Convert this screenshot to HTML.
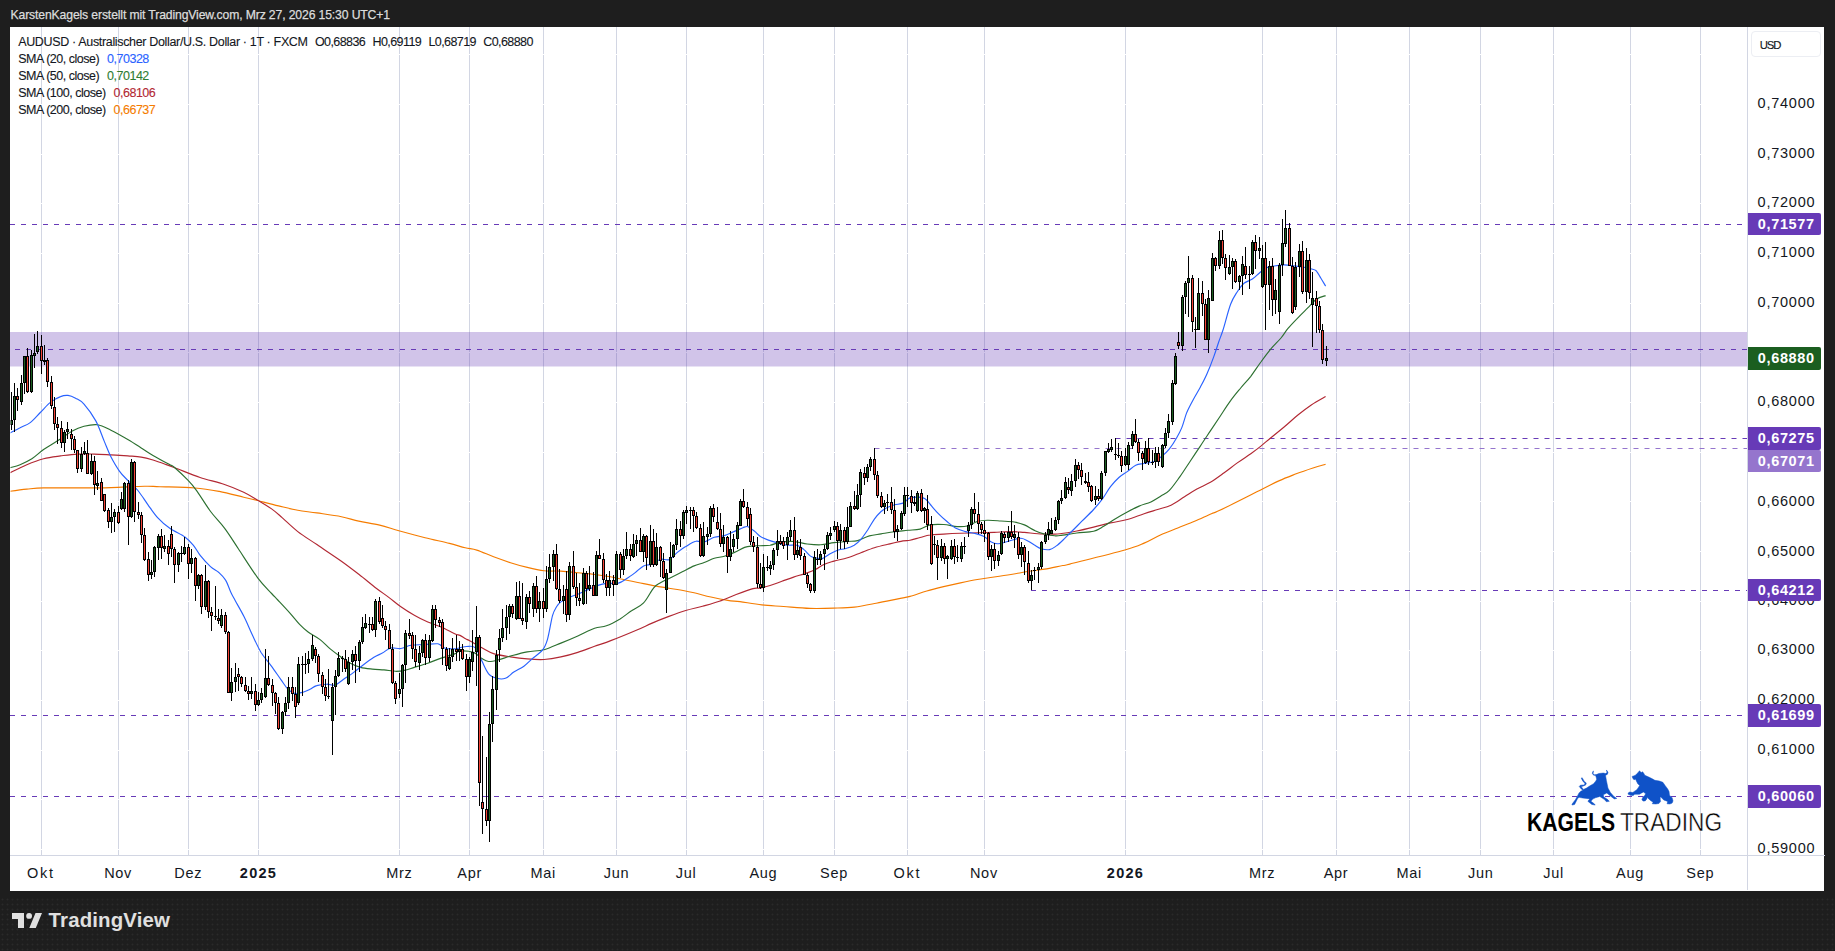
<!DOCTYPE html>
<html><head><meta charset="utf-8"><title>AUDUSD</title>
<style>
html,body{margin:0;padding:0;background:#1e1e1e;}
body{width:1835px;height:951px;overflow:hidden;position:relative;font-family:"Liberation Sans",sans-serif;}
#dots{position:absolute;left:0;top:897px;width:1835px;height:54px;background-image:radial-gradient(circle,rgba(255,255,255,0.055) 0.7px,rgba(255,255,255,0) 1.2px);background-size:5px 5px;}
#white{position:absolute;left:10.4px;top:27px;width:1814.1px;height:863.5px;background:#fff;}
.t{position:absolute;white-space:nowrap;line-height:1;}
#hdr{left:10.5px;top:8.7px;font-size:12.2px;color:#dcdcdc;letter-spacing:-0.13px;-webkit-text-stroke:0.25px;}
.lg{font-size:12.5px;color:#131722;left:18.2px;letter-spacing:-0.48px;-webkit-text-stroke:0.1px;}
.pl{font-size:14.5px;color:#131722;left:1757.6px;letter-spacing:0.75px;transform:translateY(-50%);margin-top:0.7px;}
.tag{position:absolute;left:1748px;width:73px;height:22.6px;border-radius:0 2px 2px 0;color:#fff;font-weight:bold;font-size:14.5px;letter-spacing:0.65px;line-height:22.2px;}
.tag span{position:absolute;left:9.8px;}
.tl{font-size:14.5px;color:#131722;top:865.6px;transform:translateX(-50%);letter-spacing:0.7px;margin-left:0px;}
.tl.b{font-weight:bold;letter-spacing:1.3px;}
#usd{position:absolute;left:1750.8px;top:31.2px;width:70px;height:25.6px;border:1px solid #eceef3;border-radius:4px;box-sizing:border-box;}
#usd span{position:absolute;left:7.9px;top:7.8px;font-size:11.3px;letter-spacing:-1.1px;color:#131722;line-height:1;-webkit-text-stroke:0.15px;}
#kg{left:1527px;top:810.2px;font-size:25.2px;font-weight:bold;color:#000;transform-origin:0 0;transform:scaleX(0.84);}
#tr{left:1619.5px;top:810.2px;font-size:25.2px;color:#000;transform-origin:0 0;transform:scaleX(0.9);-webkit-text-stroke:0.45px #fff;}
#tv{left:48.6px;top:910.3px;font-size:20.4px;font-weight:bold;color:#e0e0e0;letter-spacing:0.15px;}
</style></head><body>
<div id="dots"></div>
<div id="white"></div>

<svg width="1835" height="951" viewBox="0 0 1835 951" style="position:absolute;left:0;top:0">
<rect x="41" y="27" width="1" height="828.5" fill="#d2d6e3"/>
<rect x="118" y="27" width="1" height="828.5" fill="#d2d6e3"/>
<rect x="188" y="27" width="1" height="828.5" fill="#d2d6e3"/>
<rect x="258" y="27" width="1" height="828.5" fill="#d2d6e3"/>
<rect x="399" y="27" width="1" height="828.5" fill="#d2d6e3"/>
<rect x="469" y="27" width="1" height="828.5" fill="#d2d6e3"/>
<rect x="543" y="27" width="1" height="828.5" fill="#d2d6e3"/>
<rect x="616" y="27" width="1" height="828.5" fill="#d2d6e3"/>
<rect x="686" y="27" width="1" height="828.5" fill="#d2d6e3"/>
<rect x="763" y="27" width="1" height="828.5" fill="#d2d6e3"/>
<rect x="834" y="27" width="1" height="828.5" fill="#d2d6e3"/>
<rect x="907" y="27" width="1" height="828.5" fill="#d2d6e3"/>
<rect x="984" y="27" width="1" height="828.5" fill="#d2d6e3"/>
<rect x="1125" y="27" width="1" height="828.5" fill="#d2d6e3"/>
<rect x="1262" y="27" width="1" height="828.5" fill="#d2d6e3"/>
<rect x="1336" y="27" width="1" height="828.5" fill="#d2d6e3"/>
<rect x="1409" y="27" width="1" height="828.5" fill="#d2d6e3"/>
<rect x="1480" y="27" width="1" height="828.5" fill="#d2d6e3"/>
<rect x="1553" y="27" width="1" height="828.5" fill="#d2d6e3"/>
<rect x="1630" y="27" width="1" height="828.5" fill="#d2d6e3"/>
<rect x="1700" y="27" width="1" height="828.5" fill="#d2d6e3"/>
<rect x="10" y="54" width="1737.5" height="1" fill="#fff"/>
<rect x="10" y="104" width="1737.5" height="1" fill="#fff"/>
<rect x="10" y="154" width="1737.5" height="1" fill="#fff"/>
<rect x="10" y="203" width="1737.5" height="1" fill="#fff"/>
<rect x="10" y="253" width="1737.5" height="1" fill="#fff"/>
<rect x="10" y="303" width="1737.5" height="1" fill="#fff"/>
<rect x="10" y="352" width="1737.5" height="1" fill="#fff"/>
<rect x="10" y="402" width="1737.5" height="1" fill="#fff"/>
<rect x="10" y="452" width="1737.5" height="1" fill="#fff"/>
<rect x="10" y="501" width="1737.5" height="1" fill="#fff"/>
<rect x="10" y="551" width="1737.5" height="1" fill="#fff"/>
<rect x="10" y="601" width="1737.5" height="1" fill="#fff"/>
<rect x="10" y="650" width="1737.5" height="1" fill="#fff"/>
<rect x="10" y="700" width="1737.5" height="1" fill="#fff"/>
<rect x="10" y="750" width="1737.5" height="1" fill="#fff"/>
<rect x="10" y="799" width="1737.5" height="1" fill="#fff"/>
<rect x="10" y="849" width="1737.5" height="1" fill="#fff"/>
<rect x="10" y="332" width="1737.5" height="34.5" fill="#673ab7" fill-opacity="0.3"/>
<rect x="10" y="855" width="1815" height="1" fill="#d2d6e3"/>
<rect x="1747" y="27" width="1" height="863" fill="#d2d6e3"/>
<line x1="10" y1="224.5" x2="1747" y2="224.5" stroke="#673ab7" stroke-width="1" stroke-dasharray="5 6"/>
<line x1="15" y1="349.5" x2="1747" y2="349.5" stroke="#673ab7" stroke-width="1" stroke-dasharray="5 6"/>
<line x1="1115.5" y1="438.5" x2="1747" y2="438.5" stroke="#673ab7" stroke-width="1" stroke-dasharray="5 6"/>
<line x1="874.5" y1="448.5" x2="1747" y2="448.5" stroke="#9575cd" stroke-width="1" stroke-dasharray="5 6"/>
<line x1="1031" y1="590.5" x2="1747" y2="590.5" stroke="#673ab7" stroke-width="1" stroke-dasharray="5 6"/>
<line x1="10" y1="715.5" x2="1747" y2="715.5" stroke="#673ab7" stroke-width="1" stroke-dasharray="5 6"/>
<line x1="10" y1="796.5" x2="1747" y2="796.5" stroke="#673ab7" stroke-width="1" stroke-dasharray="5 6"/>
<clipPath id="cp"><rect x="10.5" y="27" width="1737" height="828"/></clipPath><g clip-path="url(#cp)">
<path d="M10.0 491.3C12.8 490.9 21.2 489.7 26.8 489.1C32.4 488.6 35.2 488.1 43.6 487.9C52.1 487.8 66.1 488.0 77.3 487.9C88.5 487.9 99.7 487.9 110.9 487.6C122.2 487.3 136.4 486.4 144.6 486.3C152.8 486.1 151.6 486.5 160.0 486.7C168.4 487.0 185.0 487.2 194.9 488.0C204.8 488.7 211.2 489.9 219.3 491.4C227.4 493.0 237.3 495.7 243.7 497.2C250.1 498.7 251.8 499.1 257.7 500.5C263.5 502.0 271.9 504.3 278.6 505.9C285.3 507.5 291.4 509.1 297.8 510.3C304.2 511.4 309.7 511.8 316.9 512.9C324.2 514.0 334.4 515.4 341.4 516.7C348.3 518.1 352.4 519.7 358.8 521.1C365.2 522.5 373.0 523.5 379.7 525.1C386.4 526.7 391.4 528.6 398.9 530.7C406.5 532.8 416.6 535.5 425.1 537.7C433.5 539.8 442.8 541.7 449.5 543.4C456.2 545.1 460.6 546.7 465.2 547.8C469.7 548.9 472.1 548.6 476.8 550.1C481.6 551.6 488.0 554.7 493.6 556.8C499.3 558.9 504.9 560.9 510.5 562.7C516.1 564.5 521.7 566.1 527.3 567.4C532.9 568.8 538.5 570.2 544.1 570.8C549.7 571.4 555.3 570.8 560.9 571.1C566.6 571.5 572.2 572.2 577.8 572.8C583.4 573.4 589.2 573.8 594.6 574.5C600.0 575.2 604.6 575.9 610.0 576.8C615.4 577.8 621.2 579.1 626.8 580.2C632.4 581.3 638.0 582.4 643.6 583.6C649.3 584.7 654.9 585.9 660.5 586.9C666.1 587.9 671.7 588.5 677.3 589.5C682.9 590.4 688.5 591.6 694.1 592.8C699.7 594.1 705.3 595.8 710.9 597.0C716.6 598.3 722.9 599.6 727.8 600.4C732.6 601.2 734.3 600.9 740.0 601.6C745.7 602.4 754.5 604.1 761.8 604.9C769.1 605.7 775.6 605.9 783.6 606.5C791.6 607.1 801.4 608.1 809.8 608.4C818.1 608.6 826.3 608.4 833.7 608.1C841.2 607.9 847.4 607.9 854.4 607.1C861.5 606.2 869.0 604.6 876.2 603.2C883.5 601.9 892.4 600.0 898.0 598.9C903.7 597.7 905.2 597.7 910.0 596.4C914.8 595.1 921.2 592.6 926.8 591.0C932.4 589.4 938.0 588.0 943.6 586.6C949.3 585.3 954.9 584.1 960.5 582.9C966.1 581.7 971.7 580.5 977.3 579.5C982.9 578.6 988.5 577.9 994.1 577.0C999.7 576.2 1005.3 575.4 1010.9 574.5C1016.6 573.6 1022.2 572.4 1027.8 571.5C1033.4 570.6 1039.0 570.1 1044.6 569.1C1050.2 568.2 1057.2 566.6 1061.4 565.8C1065.6 564.9 1059.3 566.7 1069.8 564.1C1080.4 561.4 1112.4 553.5 1124.8 550.0C1137.2 546.5 1138.1 545.7 1144.1 543.1C1150.2 540.6 1155.3 537.2 1160.9 534.7C1166.6 532.2 1172.2 530.2 1177.8 528.0C1183.4 525.7 1189.0 523.6 1194.6 521.2C1200.2 518.8 1207.2 515.5 1211.4 513.7C1215.6 511.8 1211.3 514.4 1219.8 510.3C1228.4 506.2 1252.6 493.9 1262.5 489.0C1272.5 484.0 1273.8 483.1 1279.4 480.6C1285.0 478.1 1290.6 476.0 1296.2 473.8C1301.8 471.7 1308.1 469.6 1313.0 468.0C1317.9 466.4 1323.5 464.9 1325.6 464.3" fill="none" stroke="#f57c00" stroke-width="1.15" stroke-linejoin="round"/>
<path d="M10.0 472.8C12.8 471.4 21.2 467.0 26.8 464.7C32.4 462.4 38.0 460.3 43.6 458.8C49.3 457.3 54.9 456.7 60.5 455.9C66.1 455.2 71.7 454.4 77.3 454.1C82.9 453.8 88.5 454.0 94.1 454.1C99.7 454.2 105.3 454.6 110.9 454.9C116.6 455.2 122.7 455.6 127.8 455.9C132.8 456.3 137.0 456.4 141.2 457.1C145.4 457.8 148.9 458.8 153.0 460.0C157.1 461.2 161.6 462.9 165.6 464.4C169.7 465.8 171.7 466.6 177.4 468.8C183.2 471.0 192.3 474.9 200.1 477.5C208.0 480.1 217.3 482.0 224.5 484.5C231.8 486.9 238.2 489.7 243.7 492.3C249.2 494.9 253.0 497.4 257.7 500.2C262.3 502.9 267.5 506.0 271.6 508.9C275.7 511.8 277.7 513.8 282.1 517.6C286.4 521.4 292.0 527.0 297.8 531.6C303.6 536.1 309.7 539.7 316.9 544.6C324.2 549.6 334.4 556.3 341.4 561.2C348.3 566.1 353.0 569.8 358.8 574.3C364.6 578.8 371.2 584.3 376.2 588.2C381.3 592.1 385.0 594.5 389.1 597.6C393.2 600.7 396.6 603.9 400.9 606.8C405.1 609.8 409.8 612.7 414.3 615.2C418.8 617.8 423.3 620.0 427.8 622.0C432.3 623.9 436.7 625.1 441.2 627.0C445.7 629.0 451.6 632.3 454.7 633.7C457.8 635.1 458.2 634.6 460.0 635.4C461.8 636.2 463.9 637.9 465.6 638.8C467.3 639.7 467.4 639.5 470.1 640.9C472.8 642.4 477.9 645.6 481.9 647.7C485.8 649.8 488.9 652.0 493.6 653.6C498.4 655.1 504.9 656.0 510.5 656.9C516.1 657.8 521.7 658.5 527.3 658.9C532.9 659.4 538.5 659.8 544.1 659.5C549.7 659.1 555.3 658.1 560.9 656.9C566.6 655.8 572.2 654.2 577.8 652.4C583.4 650.6 589.0 648.3 594.6 646.3C600.2 644.3 604.4 643.2 611.4 640.4C618.5 637.7 630.1 632.9 636.9 630.0C643.7 627.1 646.7 625.4 652.1 623.1C657.4 620.8 663.3 618.5 668.9 616.4C674.5 614.3 680.1 612.2 685.7 610.5C691.3 608.8 696.9 607.8 702.5 606.3C708.1 604.7 713.8 603.2 719.4 601.2C725.0 599.3 730.6 596.6 736.2 594.5C741.8 592.4 749.0 589.7 753.0 588.6C757.0 587.5 757.2 588.6 760.0 588.1C762.8 587.5 766.4 586.7 770.1 585.5C773.7 584.4 777.9 582.7 781.9 581.3C785.8 579.9 789.4 578.5 793.6 577.1C797.9 575.7 803.5 574.2 807.1 572.9C810.8 571.7 812.7 570.9 815.5 569.5C818.3 568.1 820.8 565.9 823.9 564.5C827.0 563.1 830.1 562.3 834.0 561.1C838.0 560.0 843.0 559.2 847.5 557.8C852.0 556.4 856.5 554.4 860.9 552.7C865.4 551.0 869.9 549.1 874.4 547.7C878.9 546.3 883.1 545.4 887.9 544.3C892.6 543.2 899.3 541.6 903.0 540.9C906.7 540.3 907.2 540.9 910.0 540.3C912.8 539.8 916.7 538.4 920.1 537.5C923.5 536.6 926.3 535.5 930.2 535.0C934.1 534.4 938.6 534.4 943.6 534.1C948.7 533.8 954.9 533.5 960.5 533.3C966.1 533.1 971.7 532.9 977.3 532.8C982.9 532.6 988.5 532.6 994.1 532.4C999.7 532.2 1005.9 531.6 1010.9 531.6C1016.0 531.6 1019.9 532.1 1024.4 532.4C1028.9 532.8 1033.4 533.5 1037.9 533.8C1042.4 534.1 1047.6 534.1 1051.3 534.1C1055.0 534.1 1055.8 534.4 1060.0 533.8C1064.2 533.3 1071.2 532.1 1076.8 531.0C1082.4 529.9 1088.0 528.5 1093.6 527.1C1099.3 525.8 1104.9 524.2 1110.5 522.9C1116.1 521.7 1121.7 521.1 1127.3 519.5C1132.9 518.0 1139.1 515.3 1144.1 513.7C1149.2 512.0 1153.1 510.9 1157.6 509.5C1162.1 508.1 1166.6 507.4 1171.0 505.2C1175.5 503.1 1180.2 499.5 1184.5 496.8C1188.8 494.1 1192.6 491.4 1196.9 489.0C1201.2 486.6 1205.9 484.9 1210.4 482.3C1214.9 479.6 1219.4 476.2 1223.8 473.0C1228.3 469.8 1232.8 466.1 1237.3 462.9C1241.8 459.7 1246.8 456.5 1250.8 453.7C1254.7 450.9 1257.5 448.8 1260.9 446.1C1264.2 443.4 1267.0 440.9 1270.9 437.7C1274.9 434.5 1279.9 430.5 1284.4 426.7C1288.9 423.0 1293.4 418.6 1297.9 415.0C1302.4 411.3 1306.7 408.0 1311.3 404.9C1316.0 401.8 1323.2 397.9 1325.6 396.5" fill="none" stroke="#b22833" stroke-width="1.15" stroke-linejoin="round"/>
<path d="M10.0 467.7C11.7 467.2 16.4 466.2 20.1 464.7C23.7 463.2 27.9 461.3 31.9 458.8C35.8 456.3 39.4 452.5 43.6 449.5C47.9 446.6 52.3 444.2 57.1 441.1C61.9 438.1 67.8 433.5 72.3 431.0C76.7 428.6 79.8 427.4 84.0 426.3C88.2 425.3 93.0 424.2 97.5 424.8C102.0 425.5 105.9 427.8 110.9 430.2C116.0 432.6 122.7 436.5 127.8 439.5C132.8 442.4 137.0 445.2 141.2 447.9C145.4 450.5 148.2 452.6 153.0 455.4C157.8 458.2 166.3 462.8 169.8 464.7C173.3 466.6 170.9 464.5 174.0 467.0C177.0 469.6 184.1 476.2 187.9 480.1C191.7 484.0 192.8 485.3 196.6 490.6C200.4 495.8 205.9 505.2 210.6 511.5C215.2 517.7 219.9 521.8 224.5 528.1C229.2 534.3 233.0 540.7 238.5 549.0C244.0 557.3 252.1 570.4 257.7 577.8C263.2 585.2 268.3 589.8 271.6 593.5C275.0 597.2 274.8 596.8 277.8 600.0C280.8 603.2 285.9 608.6 289.5 612.6C293.2 616.7 296.6 621.2 299.6 624.4C302.7 627.6 304.6 629.4 308.1 632.0C311.5 634.5 316.4 636.8 320.1 639.6C323.8 642.5 326.8 646.1 330.2 648.9C333.6 651.7 336.9 654.1 340.3 656.5C343.6 658.8 347.0 661.4 350.4 663.2C353.7 665.0 356.8 666.4 360.5 667.4C364.1 668.4 368.3 668.7 372.3 669.1C376.2 669.5 380.1 669.6 384.0 669.9C388.0 670.3 392.4 671.2 395.8 671.3C399.2 671.3 401.1 671.1 404.2 670.4C407.3 669.8 410.4 668.6 414.3 667.4C418.2 666.2 423.3 664.7 427.8 663.2C432.3 661.6 436.7 659.7 441.2 658.1C445.7 656.6 451.6 655.1 454.7 653.9C457.8 652.7 456.9 651.3 460.0 651.0C463.1 650.8 469.8 651.1 473.5 652.4C477.1 653.6 479.3 657.1 481.9 658.6C484.4 660.1 485.8 661.3 488.6 661.5C491.4 661.7 495.1 660.7 498.7 659.8C502.3 658.9 505.7 657.4 510.5 656.1C515.2 654.8 521.7 652.9 527.3 651.9C532.9 650.8 538.5 651.2 544.1 649.7C549.7 648.2 555.3 645.4 560.9 643.1C566.6 640.8 572.2 638.4 577.8 635.9C583.4 633.4 589.8 630.0 594.6 628.3C599.4 626.6 602.1 627.4 606.4 625.8C610.6 624.2 615.8 621.4 620.1 618.9C624.3 616.3 627.9 613.1 631.9 610.5C635.8 607.8 640.0 606.7 643.6 602.9C647.3 599.1 650.9 591.1 653.7 587.8C656.5 584.4 657.7 584.4 660.5 582.7C663.3 581.0 666.9 579.5 670.6 577.7C674.2 575.9 678.4 573.8 682.3 571.8C686.3 569.8 690.5 567.4 694.1 565.9C697.8 564.4 700.9 563.8 704.2 562.5C707.6 561.3 710.9 559.4 714.3 558.3C717.7 557.3 721.0 557.3 724.4 556.3C727.8 555.3 731.1 553.9 734.5 552.4C737.9 551.0 741.5 548.5 744.6 547.4C747.7 546.3 750.4 546.3 753.0 546.0C755.6 545.8 757.2 545.8 760.0 545.7C762.8 545.5 766.7 545.7 770.1 545.2C773.5 544.6 776.3 542.9 780.2 542.3C784.1 541.7 789.2 541.2 793.6 541.5C798.1 541.7 802.6 543.4 807.1 544.0C811.6 544.5 816.1 545.0 820.6 544.8C825.1 544.6 829.5 543.2 834.0 542.6C838.5 542.1 843.6 541.8 847.5 541.5C851.4 541.1 853.9 541.5 857.6 540.6C861.2 539.7 865.4 537.0 869.4 535.9C873.3 534.8 876.9 534.6 881.1 533.9C885.3 533.2 890.1 532.3 894.6 531.7C899.1 531.1 903.8 530.8 908.1 530.3C912.3 529.9 916.4 530.0 920.1 529.1C923.8 528.2 926.3 525.6 930.2 524.9C934.1 524.1 939.2 524.3 943.6 524.5C948.1 524.8 953.2 526.3 957.1 526.6C961.0 526.8 963.8 526.9 967.2 526.0C970.6 525.2 973.9 522.5 977.3 521.5C980.7 520.6 983.5 520.4 987.4 520.3C991.3 520.2 996.4 520.7 1000.9 521.0C1005.3 521.3 1010.4 521.4 1014.3 522.0C1018.2 522.7 1021.0 523.5 1024.4 524.9C1027.8 526.3 1031.1 528.9 1034.5 530.4C1037.9 532.0 1041.2 533.2 1044.6 534.1C1048.0 535.0 1052.1 535.6 1054.7 535.8C1057.3 536.0 1056.3 536.0 1060.0 535.5C1063.7 535.1 1071.2 533.7 1076.8 533.0C1082.4 532.3 1089.2 532.4 1093.6 531.3C1098.1 530.2 1100.1 528.4 1103.7 526.3C1107.4 524.2 1111.6 521.1 1115.5 518.7C1119.4 516.3 1123.4 514.1 1127.3 512.0C1131.2 509.9 1135.1 507.8 1139.1 506.1C1143.0 504.4 1147.2 503.6 1150.9 501.9C1154.5 500.2 1157.9 497.9 1160.9 496.0C1164.0 494.1 1166.2 493.7 1169.4 490.4C1172.5 487.2 1176.6 481.2 1180.1 476.4C1183.6 471.5 1186.8 466.3 1190.2 461.2C1193.6 456.2 1196.9 451.1 1200.3 446.1C1203.6 441.0 1207.0 436.0 1210.4 430.9C1213.7 425.9 1217.1 420.9 1220.5 415.8C1223.8 410.8 1227.2 405.3 1230.6 400.7C1233.9 396.0 1237.3 392.1 1240.7 388.0C1244.0 384.0 1247.4 380.6 1250.8 376.3C1254.1 371.9 1257.5 366.5 1260.9 362.0C1264.2 357.4 1267.6 352.9 1270.9 348.9C1274.3 344.9 1278.2 341.3 1281.0 338.0C1283.8 334.6 1285.0 332.1 1287.8 328.7C1290.6 325.3 1294.5 321.3 1297.9 317.8C1301.2 314.3 1304.9 310.8 1308.0 307.7C1311.0 304.6 1313.4 301.3 1316.4 299.3C1319.3 297.2 1324.1 296.2 1325.6 295.6" fill="none" stroke="#2c7030" stroke-width="1.15" stroke-linejoin="round"/>
<path d="M10.0 433.1C11.7 432.2 16.7 429.4 20.1 427.7C23.5 425.9 26.8 425.2 30.2 422.6C33.6 420.1 36.9 415.9 40.3 412.5C43.6 409.2 47.0 405.1 50.4 402.4C53.7 399.8 57.5 397.7 60.5 396.6C63.4 395.4 65.5 395.1 68.0 395.4C70.6 395.7 73.0 396.8 75.6 398.2C78.3 399.7 80.7 400.3 84.0 404.1C87.4 407.9 92.4 414.8 95.8 420.9C99.2 427.1 101.7 435.2 104.2 441.1C106.7 447.1 108.4 451.8 110.9 456.8C113.5 461.8 116.6 467.2 119.4 471.1C122.2 475.1 124.7 477.2 127.8 480.4C130.9 483.6 134.5 486.4 137.9 490.5C141.2 494.5 144.6 500.1 148.0 504.8C151.3 509.4 154.4 514.3 158.1 518.2C161.7 522.2 165.3 525.2 169.8 528.3C174.4 531.5 181.3 534.3 185.2 537.2C189.2 540.1 191.1 542.5 193.6 545.6C196.2 548.7 197.6 552.2 200.4 555.7C203.2 559.2 207.4 563.8 210.5 566.6C213.6 569.4 216.4 570.3 218.9 572.5C221.4 574.8 223.7 576.9 225.6 580.1C227.6 583.3 229.1 588.6 230.7 591.9C232.2 595.2 232.6 595.8 234.9 600.0C237.1 604.2 241.2 610.9 244.1 616.8C247.1 622.7 249.7 629.4 252.5 635.3C255.3 641.2 257.9 647.1 260.9 652.2C264.0 657.2 267.7 661.0 271.0 665.6C274.4 670.2 278.3 676.0 281.1 679.9C283.9 683.8 285.6 686.9 287.9 689.2C290.1 691.4 292.1 692.9 294.6 693.4C297.1 693.9 300.4 692.9 303.0 692.2C305.6 691.5 307.7 690.4 310.0 689.3C312.3 688.2 313.9 686.4 316.7 685.6C319.5 684.7 323.7 684.3 326.8 684.2C329.9 684.1 332.4 685.9 335.2 685.1C338.0 684.2 340.6 681.3 343.6 679.2C346.7 677.1 350.7 674.7 353.7 672.4C356.8 670.2 358.8 668.2 362.2 665.7C365.5 663.2 370.6 659.4 373.9 657.3C377.3 655.2 379.5 654.6 382.3 653.1C385.1 651.5 387.7 648.8 390.8 648.0C393.8 647.3 397.5 649.0 400.9 648.5C404.2 648.1 407.0 645.8 410.9 645.2C414.9 644.5 419.9 644.9 424.4 644.7C428.9 644.5 434.5 643.3 437.9 643.8C441.2 644.4 441.8 647.2 444.6 648.0C447.4 648.9 452.1 648.9 454.7 648.9C457.3 648.8 458.0 648.1 460.0 647.7C462.0 647.3 464.2 646.5 466.7 646.5C469.3 646.5 472.6 645.2 475.1 647.7C477.7 650.1 479.6 656.8 481.9 661.1C484.1 665.5 486.1 670.9 488.6 673.8C491.1 676.6 494.2 677.5 497.0 678.3C499.8 679.1 502.6 679.3 505.4 678.3C508.2 677.3 510.8 674.1 513.8 672.1C516.9 670.1 520.8 668.4 523.9 666.2C527.0 663.9 529.3 661.3 532.3 658.6C535.4 655.9 539.9 653.4 542.4 650.2C545.0 647.0 545.8 645.0 547.5 639.3C549.2 633.5 551.0 621.2 552.5 615.7C554.1 610.2 555.3 608.8 556.7 606.5C558.1 604.2 558.8 603.5 560.9 601.9C563.0 600.4 566.6 598.5 569.4 597.2C572.2 595.9 574.7 595.4 577.8 594.2C580.9 592.9 584.5 591.1 587.9 589.6C591.2 588.2 594.9 586.5 598.0 585.4C601.0 584.4 603.0 583.8 606.4 583.4C609.8 583.0 615.0 583.9 618.4 583.1C621.8 582.2 624.0 580.3 626.8 578.5C629.6 576.8 632.4 574.7 635.2 572.6C638.0 570.5 640.8 567.3 643.6 565.9C646.5 564.5 649.3 565.3 652.1 564.2C654.9 563.1 657.7 559.9 660.5 559.2C663.3 558.4 666.1 560.8 668.9 559.7C671.7 558.6 674.5 554.6 677.3 552.4C680.1 550.3 682.6 548.4 685.7 546.6C688.8 544.7 692.7 541.9 695.8 541.2C698.9 540.4 701.1 542.7 704.2 542.0C707.3 541.4 710.9 538.4 714.3 537.3C717.7 536.2 721.0 536.6 724.4 535.6C727.8 534.6 731.4 532.7 734.5 531.4C737.6 530.1 740.7 528.5 742.9 527.7C745.2 526.9 746.0 526.1 748.0 526.7C749.9 527.3 752.7 529.8 754.7 531.4C756.7 533.0 757.7 534.8 760.0 536.2C762.3 537.7 765.6 539.0 768.4 540.1C771.2 541.2 773.7 541.8 776.8 542.6C779.9 543.5 783.6 544.7 786.9 545.2C790.3 545.6 794.2 544.5 797.0 545.2C799.8 545.9 801.5 547.5 803.7 549.4C806.0 551.2 808.5 554.7 810.5 556.1C812.4 557.5 813.6 557.4 815.5 557.8C817.5 558.2 820.0 559.2 822.3 558.6C824.5 558.1 826.5 555.8 829.0 554.4C831.5 553.0 834.6 551.2 837.4 550.2C840.2 549.2 843.0 549.4 845.8 548.5C848.6 547.7 851.7 546.7 854.2 545.2C856.7 543.6 858.7 541.8 860.9 539.3C863.2 536.7 865.4 533.4 867.7 530.0C869.9 526.6 872.2 522.2 874.4 519.1C876.6 516.0 878.9 513.5 881.1 511.5C883.4 509.5 885.6 508.4 887.9 507.3C890.1 506.2 892.1 505.5 894.6 504.8C897.1 504.1 900.4 504.2 903.0 503.1C905.6 502.0 907.4 498.9 910.0 497.9C912.6 497.0 915.9 497.0 918.4 497.1C920.9 497.2 922.9 497.2 925.1 498.8C927.4 500.3 929.6 503.8 931.9 506.4C934.1 508.9 936.1 511.4 938.6 513.9C941.1 516.5 944.2 519.2 947.0 521.5C949.8 523.8 952.3 526.2 955.4 527.9C958.5 529.6 962.2 530.6 965.5 531.6C968.9 532.6 972.5 532.8 975.6 533.6C978.7 534.5 981.5 535.3 984.0 536.6C986.6 538.0 988.5 540.5 990.8 541.7C993.0 542.9 995.2 543.6 997.5 543.7C999.7 543.9 1001.7 543.2 1004.2 542.5C1006.7 541.9 1009.8 540.7 1012.6 540.0C1015.4 539.3 1018.5 538.2 1021.0 538.3C1023.6 538.5 1025.5 539.7 1027.8 540.9C1030.0 542.0 1032.3 543.7 1034.5 545.1C1036.7 546.4 1038.7 548.0 1041.2 548.8C1043.8 549.5 1047.1 550.1 1049.6 549.6C1052.2 549.1 1054.1 547.5 1056.4 545.9C1058.6 544.3 1060.8 542.2 1063.1 540.0C1065.4 537.9 1067.0 536.1 1070.1 533.0C1073.2 529.9 1077.9 525.2 1081.9 521.2C1085.8 517.3 1090.3 513.1 1093.6 509.5C1097.0 505.8 1099.3 503.1 1102.1 499.4C1104.9 495.6 1107.7 490.4 1110.5 486.7C1113.3 483.1 1116.1 480.0 1118.9 477.5C1121.7 475.0 1124.5 473.6 1127.3 471.6C1130.1 469.6 1132.9 466.6 1135.7 465.2C1138.5 463.9 1141.0 464.1 1144.1 463.5C1147.2 462.9 1151.1 462.8 1154.2 461.5C1157.3 460.2 1160.1 457.7 1162.6 455.6C1165.2 453.5 1167.0 451.9 1169.4 448.9C1171.7 445.9 1174.7 441.2 1176.7 437.7C1178.8 434.1 1180.1 431.8 1181.8 427.6C1183.5 423.4 1184.9 417.2 1186.8 412.4C1188.8 407.7 1191.3 403.2 1193.6 399.0C1195.8 394.8 1198.0 391.4 1200.3 387.2C1202.5 383.0 1204.8 378.8 1207.0 373.7C1209.3 368.7 1211.8 362.2 1213.7 356.9C1215.7 351.6 1217.2 346.3 1218.8 341.8C1220.3 337.3 1221.0 336.2 1223.0 330.0C1225.0 323.8 1228.2 310.7 1230.6 304.3C1233.0 297.9 1235.1 295.2 1237.3 291.7C1239.5 288.2 1241.5 285.4 1244.0 283.3C1246.6 281.2 1249.9 280.8 1252.4 279.1C1255.0 277.4 1256.9 275.0 1259.2 273.2C1261.4 271.4 1263.4 269.3 1265.9 268.1C1268.4 266.9 1271.2 266.5 1274.3 266.0C1277.4 265.4 1281.0 264.8 1284.4 264.8C1287.8 264.8 1291.4 265.6 1294.5 266.0C1297.6 266.3 1300.2 266.5 1302.9 267.0C1305.6 267.4 1308.6 268.2 1310.8 268.8C1313.0 269.5 1314.5 269.3 1316.2 270.8C1317.9 272.4 1319.3 275.7 1320.9 278.2C1322.5 280.8 1324.8 284.8 1325.6 286.1" fill="none" stroke="#2962ff" stroke-width="1.15" stroke-linejoin="round"/>
<path d="M11.5 392V430M14.5 383V432M17.5 388V411M21.5 375V405M24.5 356V394M27.5 348V393M31.5 350V393M34.5 334V368M37.5 331V354M41.5 335V374M44.5 345V365M47.5 358V387M51.5 376V409M54.5 397V430M57.5 417V444M61.5 421V448M64.5 430V452M67.5 422V439M71.5 429V450M74.5 436V453M77.5 450V473M81.5 447V472M84.5 442V455M87.5 440V474M91.5 454V475M94.5 456V495M97.5 471V490M101.5 478V501M104.5 494V512M108.5 508V528M111.5 503V533M114.5 509V532M118.5 506V524M121.5 492V510M124.5 482V512M128.5 480V545M131.5 459V518M134.5 461V522M138.5 502V519M141.5 512V543M144.5 528V561M148.5 552V581M151.5 560V579M154.5 546V577M158.5 534V560M161.5 529V559M164.5 535V552M168.5 540V565M171.5 526V557M174.5 547V583M178.5 552V572M181.5 546V562M184.5 537V555M188.5 544V579M191.5 549V573M195.5 557V601M198.5 574V589M201.5 574V614M205.5 565V610M208.5 580V618M211.5 607V631M215.5 586V620M218.5 609V624M221.5 609V628M225.5 612V634M228.5 631V693M231.5 668V701M235.5 663V692M238.5 668V691M241.5 676V687M245.5 677V692M248.5 686V700M251.5 677V699M255.5 684V711M258.5 692V706M261.5 688V703M265.5 649V698M268.5 656V686M272.5 679V706M275.5 692V714M278.5 697V730M282.5 711V734M285.5 697V716M288.5 677V709M292.5 677V701M295.5 687V718M298.5 657V705M302.5 656V696M305.5 653V674M308.5 651V673M312.5 635V661M315.5 647V663M318.5 654V682M322.5 672V694M325.5 679V701M328.5 669V699M332.5 683V755M335.5 670V715M338.5 652V677M342.5 656V672M345.5 650V672M348.5 657V685M352.5 650V670M355.5 646V683M359.5 640V672M362.5 617V644M365.5 614V629M369.5 617V633M372.5 617V631M375.5 599V637M379.5 597V624M382.5 605V628M385.5 621V640M389.5 624V649M392.5 644V684M395.5 681V704M399.5 673V698M402.5 664V707M405.5 630V683M409.5 619V639M412.5 632V659M415.5 635V667M419.5 646V670M422.5 639V657M425.5 634V665M429.5 635V662M432.5 605V642M435.5 605V628M439.5 617V627M442.5 619V665M446.5 647V671M449.5 648V670M452.5 638V662M456.5 635V661M459.5 641V661M462.5 644V660M466.5 654V691M469.5 657V683M472.5 630V671M476.5 606V686M479.5 635V806M482.5 736V834M486.5 757V826M489.5 712V842M492.5 676V742M496.5 650V710M499.5 629V662M502.5 609V642M506.5 605V640M509.5 604V634M512.5 604V618M516.5 582V620M519.5 581V619M522.5 583V625M526.5 594V629M529.5 591V613M533.5 583V617M536.5 576V613M539.5 592V622M543.5 588V618M546.5 566V612M549.5 554V583M553.5 550V581M556.5 544V590M559.5 569V603M563.5 585V614M566.5 571V622M569.5 562V620M573.5 551V589M576.5 573V606M579.5 583V606M583.5 568V605M586.5 571V604M589.5 566V591M593.5 572V596M596.5 551V596M599.5 539V559M603.5 553V583M606.5 574V596M609.5 571V596M613.5 575V596M616.5 551V585M620.5 552V578M623.5 549V575M626.5 532V559M630.5 544V561M633.5 534V558M636.5 535V556M640.5 528V552M643.5 534V562M646.5 535V570M650.5 525V567M653.5 529V567M656.5 533V566M660.5 546V577M663.5 553V579M666.5 569V613M670.5 542V573M673.5 544V558M676.5 519V550M680.5 521V547M683.5 510V539M686.5 506V524M690.5 507V529M693.5 507V532M696.5 512V529M700.5 524V557M703.5 522V557M707.5 527V545M710.5 506V537M713.5 504V522M717.5 507V530M720.5 513V547M723.5 525V552M727.5 536V573M730.5 531V561M733.5 534V552M737.5 522V549M740.5 499V526M743.5 489V508M747.5 502V526M750.5 508V545M753.5 536V552M757.5 537V588M760.5 563V589M763.5 554V592M767.5 556V571M770.5 561V575M773.5 548V570M777.5 530V556M780.5 535V545M783.5 537V549M787.5 532V560M790.5 520V541M794.5 517V560M797.5 540V558M800.5 539V560M804.5 553V575M807.5 573V588M810.5 583V593M814.5 551V593M817.5 549V565M820.5 551V565M824.5 545V570M827.5 532V550M830.5 527V540M834.5 521V532M837.5 522V559M840.5 524V549M844.5 527V549M847.5 507V544M850.5 502V527M854.5 491V510M857.5 484V510M860.5 469V507M864.5 467V485M867.5 464V482M870.5 457V471M874.5 448V480M877.5 471V498M881.5 492V508M884.5 500V514M887.5 494V511M891.5 487V514M894.5 499V538M897.5 525V541M901.5 511V530M904.5 487V516M907.5 487V507M911.5 490V513M914.5 496V506M917.5 491V512M921.5 489V512M924.5 507V523M927.5 495V530M931.5 516V565M934.5 536V555M937.5 540V580M941.5 539V561M944.5 543V564M947.5 555V579M951.5 540V560M954.5 539V564M957.5 545V562M961.5 542V562M964.5 537V554M968.5 522V537M971.5 507V529M974.5 493V522M978.5 502V534M981.5 522V534M984.5 521V542M988.5 532V560M991.5 545V571M994.5 543V569M998.5 551V566M1001.5 531V555M1004.5 532V543M1008.5 526V542M1011.5 511V539M1014.5 525V548M1018.5 532V559M1021.5 542V567M1024.5 545V575M1028.5 551V583M1031.5 570V590M1034.5 567V580M1038.5 563V583M1041.5 541V569M1045.5 532V544M1048.5 522V540M1051.5 518V534M1055.5 517V531M1058.5 500V524M1061.5 490V504M1065.5 477V499M1068.5 478V494M1071.5 474V496M1075.5 459V487M1078.5 462V479M1081.5 463V485M1085.5 473V484M1088.5 472V492M1091.5 485V502M1095.5 486V505M1098.5 489V501M1101.5 471V500M1105.5 451V476M1108.5 443V453M1111.5 439V452M1115.5 438V460M1118.5 443V458M1121.5 451V472M1125.5 448V466M1128.5 442V470M1132.5 431V449M1135.5 419V443M1138.5 439V461M1142.5 451V470M1145.5 441V464M1148.5 438V465M1152.5 450V465M1155.5 447V468M1158.5 447V466M1162.5 444V468M1165.5 428V448M1168.5 414V438M1172.5 380V425M1175.5 353V385M1178.5 332V349M1182.5 295V351M1185.5 281V314M1188.5 256V317M1192.5 275V332M1195.5 317V348M1198.5 278V330M1202.5 281V316M1205.5 299V340M1208.5 290V353M1212.5 253V301M1215.5 257V271M1219.5 231V269M1222.5 230V264M1225.5 254V280M1229.5 255V275M1232.5 258V289M1235.5 259V283M1239.5 275V290M1242.5 256V295M1245.5 247V279M1249.5 266V289M1252.5 240V275M1255.5 235V269M1259.5 237V259M1262.5 245V288M1265.5 242V330M1269.5 261V310M1272.5 258V316M1275.5 279V314M1279.5 263V324M1282.5 219V276M1285.5 210V247M1289.5 223V266M1292.5 257V314M1295.5 262V310M1299.5 244V277M1302.5 241V294M1306.5 248V303M1309.5 254V299M1312.5 272V347M1316.5 291V333M1319.5 301V333M1322.5 324V364M1326.5 346V366" stroke="#000" stroke-width="1" fill="none" shape-rendering="crispEdges"/>
<path d="M10.0 420h3v5h-3zM13.0 396h3v24h-3zM16.0 396h3v4h-3zM20.0 383h3v19h-3zM23.0 356h3v27h-3zM26.0 356h3v36h-3zM30.0 355h3v37h-3zM33.0 353h3v3h-3zM36.0 346h3v6h-3zM40.0 346h3v15h-3zM43.0 360h3v2h-3zM46.0 360h3v22h-3zM50.0 382h3v24h-3zM53.0 407h3v17h-3zM56.0 424h3v4h-3zM60.0 428h3v15h-3zM63.0 432h3v11h-3zM66.0 429h3v3h-3zM70.0 434h3v5h-3zM73.0 439h3v11h-3zM76.0 450h3v19h-3zM80.0 454h3v15h-3zM83.0 451h3v3h-3zM86.0 453h3v21h-3zM90.0 461h3v13h-3zM93.0 461h3v24h-3zM96.0 483h3v3h-3zM100.0 482h3v19h-3zM103.0 494h3v17h-3zM107.0 510h3v12h-3zM110.0 517h3v5h-3zM113.0 512h3v5h-3zM117.0 512h3v11h-3zM120.0 499h3v10h-3zM123.0 483h3v26h-3zM127.0 483h3v34h-3zM130.0 462h3v55h-3zM133.0 462h3v50h-3zM137.0 512h3v3h-3zM140.0 515h3v20h-3zM143.0 535h3v25h-3zM147.0 559h3v16h-3zM150.0 572h3v3h-3zM153.0 547h3v25h-3zM157.0 536h3v12h-3zM160.0 536h3v12h-3zM163.0 546h3v3h-3zM167.0 546h3v8h-3zM170.0 534h3v15h-3zM173.0 549h3v16h-3zM177.0 553h3v12h-3zM180.0 553h3v1h-3zM183.0 547h3v7h-3zM187.0 547h3v17h-3zM190.0 558h3v6h-3zM194.0 558h3v28h-3zM197.0 575h3v11h-3zM200.0 575h3v32h-3zM204.0 581h3v26h-3zM207.0 581h3v31h-3zM210.0 612h3v4h-3zM214.0 616h3v1h-3zM217.0 618h3v3h-3zM220.0 615h3v11h-3zM224.0 615h3v17h-3zM227.0 632h3v61h-3zM230.0 682h3v11h-3zM234.0 677h3v5h-3zM237.0 674h3v3h-3zM240.0 677h3v7h-3zM244.0 685h3v6h-3zM247.0 691h3v3h-3zM250.0 691h3v3h-3zM254.0 691h3v14h-3zM257.0 700h3v5h-3zM260.0 693h3v7h-3zM264.0 678h3v19h-3zM267.0 678h3v7h-3zM271.0 685h3v8h-3zM274.0 693h3v10h-3zM277.0 703h3v26h-3zM281.0 712h3v17h-3zM284.0 703h3v9h-3zM287.0 687h3v16h-3zM291.0 687h3v7h-3zM294.0 694h3v13h-3zM297.0 664h3v39h-3zM301.0 664h3v1h-3zM304.0 664h3v1h-3zM307.0 659h3v5h-3zM311.0 645h3v14h-3zM314.0 649h3v7h-3zM317.0 656h3v18h-3zM321.0 675h3v12h-3zM324.0 687h3v9h-3zM327.0 696h3v1h-3zM331.0 687h3v34h-3zM334.0 676h3v11h-3zM337.0 658h3v18h-3zM341.0 658h3v1h-3zM344.0 659h3v10h-3zM347.0 662h3v22h-3zM351.0 654h3v8h-3zM354.0 654h3v7h-3zM358.0 642h3v19h-3zM361.0 627h3v15h-3zM364.0 623h3v5h-3zM368.0 624h3v1h-3zM371.0 624h3v6h-3zM374.0 601h3v29h-3zM378.0 601h3v21h-3zM381.0 618h3v8h-3zM384.0 626h3v4h-3zM388.0 630h3v19h-3zM391.0 649h3v34h-3zM394.0 683h3v16h-3zM398.0 689h3v5h-3zM401.0 665h3v24h-3zM404.0 633h3v32h-3zM408.0 633h3v3h-3zM411.0 635h3v14h-3zM414.0 649h3v13h-3zM418.0 653h3v10h-3zM421.0 640h3v13h-3zM424.0 640h3v18h-3zM428.0 640h3v18h-3zM431.0 609h3v32h-3zM434.0 609h3v11h-3zM438.0 620h3v3h-3zM441.0 622h3v27h-3zM445.0 649h3v17h-3zM448.0 657h3v12h-3zM451.0 649h3v8h-3zM455.0 649h3v3h-3zM458.0 649h3v3h-3zM461.0 649h3v10h-3zM465.0 659h3v18h-3zM468.0 659h3v18h-3zM471.0 652h3v10h-3zM475.0 637h3v15h-3zM478.0 637h3v146h-3zM481.0 802h3v7h-3zM485.0 809h3v12h-3zM488.0 724h3v97h-3zM491.0 689h3v35h-3zM495.0 655h3v35h-3zM498.0 638h3v12h-3zM501.0 628h3v10h-3zM505.0 617h3v11h-3zM508.0 606h3v11h-3zM511.0 606h3v8h-3zM515.0 596h3v23h-3zM518.0 596h3v23h-3zM521.0 618h3v3h-3zM525.0 597h3v25h-3zM528.0 597h3v7h-3zM532.0 586h3v23h-3zM535.0 586h3v23h-3zM538.0 601h3v8h-3zM542.0 601h3v8h-3zM545.0 579h3v30h-3zM548.0 567h3v12h-3zM552.0 554h3v13h-3zM555.0 554h3v35h-3zM558.0 589h3v12h-3zM562.0 596h3v5h-3zM565.0 589h3v26h-3zM568.0 566h3v49h-3zM572.0 566h3v21h-3zM575.0 587h3v11h-3zM578.0 598h3v3h-3zM582.0 573h3v31h-3zM585.0 573h3v16h-3zM588.0 585h3v4h-3zM592.0 585h3v11h-3zM595.0 555h3v41h-3zM598.0 555h3v4h-3zM602.0 559h3v21h-3zM605.0 580h3v8h-3zM608.0 580h3v8h-3zM612.0 580h3v5h-3zM615.0 554h3v31h-3zM619.0 554h3v16h-3zM622.0 556h3v14h-3zM625.0 549h3v7h-3zM629.0 549h3v7h-3zM632.0 544h3v13h-3zM635.0 540h3v4h-3zM639.0 540h3v12h-3zM642.0 536h3v16h-3zM645.0 536h3v22h-3zM649.0 541h3v24h-3zM652.0 541h3v24h-3zM655.0 547h3v18h-3zM659.0 547h3v14h-3zM662.0 561h3v17h-3zM665.0 573h3v17h-3zM669.0 557h3v16h-3zM672.0 545h3v12h-3zM675.0 529h3v16h-3zM679.0 529h3v7h-3zM682.0 512h3v24h-3zM685.0 510h3v3h-3zM689.0 510h3v1h-3zM692.0 510h3v6h-3zM695.0 516h3v12h-3zM699.0 528h3v28h-3zM702.0 536h3v20h-3zM706.0 534h3v3h-3zM709.0 508h3v26h-3zM712.0 508h3v9h-3zM716.0 522h3v7h-3zM719.0 529h3v15h-3zM722.0 537h3v7h-3zM726.0 537h3v20h-3zM729.0 549h3v8h-3zM732.0 539h3v8h-3zM736.0 525h3v14h-3zM739.0 501h3v25h-3zM742.0 501h3v6h-3zM746.0 507h3v12h-3zM749.0 514h3v28h-3zM752.0 542h3v5h-3zM756.0 547h3v37h-3zM759.0 584h3v4h-3zM762.0 567h3v21h-3zM766.0 567h3v1h-3zM769.0 565h3v4h-3zM772.0 550h3v15h-3zM776.0 541h3v9h-3zM779.0 541h3v3h-3zM782.0 541h3v5h-3zM786.0 537h3v8h-3zM789.0 530h3v7h-3zM793.0 530h3v25h-3zM796.0 550h3v5h-3zM799.0 547h3v9h-3zM803.0 556h3v19h-3zM806.0 575h3v9h-3zM809.0 584h3v7h-3zM813.0 557h3v34h-3zM816.0 559h3v1h-3zM819.0 554h3v6h-3zM823.0 549h3v5h-3zM826.0 535h3v14h-3zM829.0 533h3v3h-3zM833.0 526h3v4h-3zM836.0 526h3v15h-3zM839.0 530h3v11h-3zM843.0 530h3v12h-3zM846.0 527h3v15h-3zM849.0 506h3v21h-3zM853.0 506h3v3h-3zM856.0 495h3v14h-3zM859.0 472h3v23h-3zM863.0 473h3v5h-3zM866.0 467h3v11h-3zM869.0 459h3v8h-3zM873.0 459h3v16h-3zM876.0 475h3v21h-3zM880.0 496h3v11h-3zM883.0 503h3v4h-3zM886.0 502h3v1h-3zM890.0 502h3v8h-3zM893.0 510h3v22h-3zM896.0 529h3v3h-3zM900.0 513h3v16h-3zM903.0 495h3v19h-3zM906.0 495h3v1h-3zM910.0 496h3v7h-3zM913.0 502h3v2h-3zM916.0 493h3v18h-3zM920.0 493h3v18h-3zM923.0 508h3v3h-3zM926.0 509h3v16h-3zM930.0 524h3v40h-3zM933.0 544h3v1h-3zM936.0 545h3v13h-3zM940.0 546h3v12h-3zM943.0 546h3v13h-3zM946.0 556h3v3h-3zM950.0 546h3v13h-3zM953.0 546h3v11h-3zM956.0 557h3v1h-3zM960.0 546h3v13h-3zM963.0 546h3v1h-3zM967.0 525h3v6h-3zM970.0 509h3v16h-3zM973.0 509h3v5h-3zM977.0 514h3v10h-3zM980.0 524h3v6h-3zM983.0 530h3v4h-3zM987.0 533h3v24h-3zM990.0 549h3v8h-3zM993.0 549h3v12h-3zM997.0 555h3v6h-3zM1000.0 533h3v21h-3zM1003.0 534h3v4h-3zM1007.0 532h3v6h-3zM1010.0 532h3v5h-3zM1013.0 534h3v4h-3zM1017.0 537h3v18h-3zM1020.0 547h3v8h-3zM1023.0 547h3v15h-3zM1027.0 563h3v18h-3zM1030.0 575h3v6h-3zM1033.0 570h3v1h-3zM1037.0 567h3v3h-3zM1040.0 542h3v25h-3zM1044.0 535h3v7h-3zM1047.0 529h3v6h-3zM1050.0 530h3v4h-3zM1054.0 520h3v10h-3zM1057.0 501h3v19h-3zM1060.0 498h3v3h-3zM1064.0 482h3v16h-3zM1067.0 487h3v3h-3zM1070.0 481h3v10h-3zM1074.0 465h3v16h-3zM1077.0 465h3v5h-3zM1080.0 470h3v7h-3zM1084.0 481h3v2h-3zM1087.0 482h3v5h-3zM1090.0 486h3v15h-3zM1094.0 496h3v4h-3zM1097.0 496h3v3h-3zM1100.0 473h3v26h-3zM1104.0 451h3v22h-3zM1107.0 449h3v3h-3zM1110.0 447h3v3h-3zM1114.0 454h3v1h-3zM1117.0 455h3v1h-3zM1120.0 456h3v10h-3zM1124.0 456h3v9h-3zM1127.0 445h3v20h-3zM1131.0 434h3v12h-3zM1134.0 434h3v8h-3zM1137.0 442h3v11h-3zM1141.0 453h3v6h-3zM1144.0 448h3v15h-3zM1147.0 448h3v14h-3zM1151.0 462h3v1h-3zM1154.0 453h3v9h-3zM1157.0 453h3v9h-3zM1161.0 445h3v22h-3zM1164.0 433h3v13h-3zM1167.0 421h3v12h-3zM1171.0 383h3v39h-3zM1174.0 356h3v28h-3zM1177.0 342h3v4h-3zM1181.0 297h3v49h-3zM1184.0 283h3v14h-3zM1187.0 278h3v5h-3zM1191.0 278h3v44h-3zM1194.0 329h3v1h-3zM1197.0 293h3v37h-3zM1201.0 293h3v11h-3zM1204.0 304h3v36h-3zM1207.0 298h3v42h-3zM1211.0 258h3v43h-3zM1214.0 258h3v8h-3zM1218.0 240h3v26h-3zM1221.0 240h3v18h-3zM1224.0 258h3v10h-3zM1228.0 267h3v7h-3zM1231.0 261h3v6h-3zM1234.0 261h3v21h-3zM1238.0 276h3v6h-3zM1241.0 264h3v12h-3zM1244.0 266h3v9h-3zM1248.0 274h3v1h-3zM1251.0 242h3v32h-3zM1254.0 242h3v9h-3zM1258.0 248h3v3h-3zM1261.0 258h3v29h-3zM1264.0 258h3v27h-3zM1268.0 266h3v19h-3zM1271.0 266h3v34h-3zM1274.0 290h3v10h-3zM1278.0 265h3v47h-3zM1281.0 243h3v22h-3zM1284.0 228h3v16h-3zM1288.0 228h3v38h-3zM1291.0 266h3v47h-3zM1294.0 267h3v40h-3zM1298.0 251h3v16h-3zM1301.0 251h3v41h-3zM1305.0 260h3v32h-3zM1308.0 260h3v33h-3zM1311.0 298h3v7h-3zM1315.0 298h3v8h-3zM1318.0 306h3v24h-3zM1321.0 330h3v30h-3zM1325.0 358h3v3h-3z" fill="#000" shape-rendering="crispEdges"/>
<path d="M11.0 421h1v3h-1zM14.0 397h1v22h-1zM21.0 384h1v17h-1zM24.0 357h1v25h-1zM31.0 356h1v35h-1zM34.0 354h1v1h-1zM37.0 347h1v4h-1zM64.0 433h1v9h-1zM67.0 430h1v1h-1zM81.0 455h1v13h-1zM84.0 452h1v1h-1zM91.0 462h1v11h-1zM97.0 484h1v1h-1zM111.0 518h1v3h-1zM114.0 513h1v3h-1zM121.0 500h1v8h-1zM124.0 484h1v24h-1zM131.0 463h1v53h-1zM151.0 573h1v1h-1zM154.0 548h1v23h-1zM158.0 537h1v10h-1zM164.0 547h1v1h-1zM178.0 554h1v10h-1zM184.0 548h1v5h-1zM191.0 559h1v4h-1zM198.0 576h1v9h-1zM205.0 582h1v24h-1zM221.0 616h1v9h-1zM231.0 683h1v9h-1zM235.0 678h1v3h-1zM251.0 692h1v1h-1zM258.0 701h1v3h-1zM261.0 694h1v5h-1zM265.0 679h1v17h-1zM282.0 713h1v15h-1zM285.0 704h1v7h-1zM288.0 688h1v14h-1zM298.0 665h1v37h-1zM308.0 660h1v3h-1zM312.0 646h1v12h-1zM332.0 688h1v32h-1zM335.0 677h1v9h-1zM338.0 659h1v16h-1zM348.0 663h1v20h-1zM352.0 655h1v6h-1zM359.0 643h1v17h-1zM362.0 628h1v13h-1zM365.0 624h1v3h-1zM375.0 602h1v27h-1zM399.0 690h1v3h-1zM402.0 666h1v22h-1zM405.0 634h1v30h-1zM419.0 654h1v8h-1zM422.0 641h1v11h-1zM429.0 641h1v16h-1zM432.0 610h1v30h-1zM449.0 658h1v10h-1zM452.0 650h1v6h-1zM459.0 650h1v1h-1zM469.0 660h1v16h-1zM472.0 653h1v8h-1zM476.0 638h1v13h-1zM489.0 725h1v95h-1zM492.0 690h1v33h-1zM496.0 656h1v33h-1zM499.0 639h1v10h-1zM502.0 629h1v8h-1zM506.0 618h1v9h-1zM509.0 607h1v9h-1zM516.0 597h1v21h-1zM526.0 598h1v23h-1zM533.0 587h1v21h-1zM539.0 602h1v6h-1zM546.0 580h1v28h-1zM549.0 568h1v10h-1zM553.0 555h1v11h-1zM563.0 597h1v3h-1zM569.0 567h1v47h-1zM583.0 574h1v29h-1zM589.0 586h1v2h-1zM596.0 556h1v39h-1zM609.0 581h1v6h-1zM616.0 555h1v29h-1zM623.0 557h1v12h-1zM626.0 550h1v5h-1zM633.0 545h1v11h-1zM636.0 541h1v2h-1zM643.0 537h1v14h-1zM650.0 542h1v22h-1zM656.0 548h1v16h-1zM666.0 574h1v15h-1zM670.0 558h1v14h-1zM673.0 546h1v10h-1zM676.0 530h1v14h-1zM683.0 513h1v22h-1zM686.0 511h1v1h-1zM703.0 537h1v18h-1zM707.0 535h1v1h-1zM710.0 509h1v24h-1zM723.0 538h1v5h-1zM730.0 550h1v6h-1zM733.0 540h1v6h-1zM737.0 526h1v12h-1zM740.0 502h1v23h-1zM763.0 568h1v19h-1zM770.0 566h1v2h-1zM773.0 551h1v13h-1zM777.0 542h1v7h-1zM787.0 538h1v6h-1zM790.0 531h1v5h-1zM797.0 551h1v3h-1zM814.0 558h1v32h-1zM820.0 555h1v4h-1zM824.0 550h1v3h-1zM827.0 536h1v12h-1zM830.0 534h1v1h-1zM834.0 527h1v2h-1zM840.0 531h1v9h-1zM847.0 528h1v13h-1zM850.0 507h1v19h-1zM857.0 496h1v12h-1zM860.0 473h1v21h-1zM867.0 468h1v9h-1zM870.0 460h1v6h-1zM884.0 504h1v2h-1zM897.0 530h1v1h-1zM901.0 514h1v14h-1zM904.0 496h1v17h-1zM917.0 494h1v16h-1zM924.0 509h1v1h-1zM941.0 547h1v10h-1zM947.0 557h1v1h-1zM951.0 547h1v11h-1zM961.0 547h1v11h-1zM968.0 526h1v4h-1zM971.0 510h1v14h-1zM991.0 550h1v6h-1zM998.0 556h1v4h-1zM1001.0 534h1v19h-1zM1008.0 533h1v4h-1zM1014.0 535h1v2h-1zM1021.0 548h1v6h-1zM1031.0 576h1v4h-1zM1038.0 568h1v1h-1zM1041.0 543h1v23h-1zM1045.0 536h1v5h-1zM1048.0 530h1v4h-1zM1051.0 531h1v2h-1zM1055.0 521h1v8h-1zM1058.0 502h1v17h-1zM1061.0 499h1v1h-1zM1065.0 483h1v14h-1zM1071.0 482h1v8h-1zM1075.0 466h1v14h-1zM1095.0 497h1v2h-1zM1101.0 474h1v24h-1zM1105.0 452h1v20h-1zM1108.0 450h1v1h-1zM1111.0 448h1v1h-1zM1125.0 457h1v7h-1zM1128.0 446h1v18h-1zM1132.0 435h1v10h-1zM1145.0 449h1v13h-1zM1155.0 454h1v7h-1zM1162.0 446h1v20h-1zM1165.0 434h1v11h-1zM1168.0 422h1v10h-1zM1172.0 384h1v37h-1zM1175.0 357h1v26h-1zM1182.0 298h1v47h-1zM1185.0 284h1v12h-1zM1188.0 279h1v3h-1zM1198.0 294h1v35h-1zM1208.0 299h1v40h-1zM1212.0 259h1v41h-1zM1219.0 241h1v24h-1zM1229.0 268h1v5h-1zM1232.0 262h1v4h-1zM1239.0 277h1v4h-1zM1242.0 265h1v10h-1zM1252.0 243h1v30h-1zM1259.0 249h1v1h-1zM1262.0 259h1v27h-1zM1269.0 267h1v17h-1zM1275.0 291h1v8h-1zM1279.0 266h1v45h-1zM1282.0 244h1v20h-1zM1285.0 229h1v14h-1zM1295.0 268h1v38h-1zM1299.0 252h1v14h-1zM1306.0 261h1v30h-1zM1312.0 299h1v5h-1zM1326.0 359h1v1h-1z" fill="#1b5e20" shape-rendering="crispEdges"/>
<path d="M17.0 397h1v2h-1zM27.0 357h1v34h-1zM41.0 347h1v13h-1zM47.0 361h1v20h-1zM51.0 383h1v22h-1zM54.0 408h1v15h-1zM57.0 425h1v2h-1zM61.0 429h1v13h-1zM71.0 435h1v3h-1zM74.0 440h1v9h-1zM77.0 451h1v17h-1zM87.0 454h1v19h-1zM94.0 462h1v22h-1zM101.0 483h1v17h-1zM104.0 495h1v15h-1zM108.0 511h1v10h-1zM118.0 513h1v9h-1zM128.0 484h1v32h-1zM134.0 463h1v48h-1zM138.0 513h1v1h-1zM141.0 516h1v18h-1zM144.0 536h1v23h-1zM148.0 560h1v14h-1zM161.0 537h1v10h-1zM168.0 547h1v6h-1zM171.0 535h1v13h-1zM174.0 550h1v14h-1zM188.0 548h1v15h-1zM195.0 559h1v26h-1zM201.0 576h1v30h-1zM208.0 582h1v29h-1zM211.0 613h1v2h-1zM218.0 619h1v1h-1zM225.0 616h1v15h-1zM228.0 633h1v59h-1zM238.0 675h1v1h-1zM241.0 678h1v5h-1zM245.0 686h1v4h-1zM248.0 692h1v1h-1zM255.0 692h1v12h-1zM268.0 679h1v5h-1zM272.0 686h1v6h-1zM275.0 694h1v8h-1zM278.0 704h1v24h-1zM292.0 688h1v5h-1zM295.0 695h1v11h-1zM315.0 650h1v5h-1zM318.0 657h1v16h-1zM322.0 676h1v10h-1zM325.0 688h1v7h-1zM345.0 660h1v8h-1zM355.0 655h1v5h-1zM372.0 625h1v4h-1zM379.0 602h1v19h-1zM382.0 619h1v6h-1zM385.0 627h1v2h-1zM389.0 631h1v17h-1zM392.0 650h1v32h-1zM395.0 684h1v14h-1zM409.0 634h1v1h-1zM412.0 636h1v12h-1zM415.0 650h1v11h-1zM425.0 641h1v16h-1zM435.0 610h1v9h-1zM439.0 621h1v1h-1zM442.0 623h1v25h-1zM446.0 650h1v15h-1zM456.0 650h1v1h-1zM462.0 650h1v8h-1zM466.0 660h1v16h-1zM479.0 638h1v144h-1zM482.0 803h1v5h-1zM486.0 810h1v10h-1zM512.0 607h1v6h-1zM519.0 597h1v21h-1zM522.0 619h1v1h-1zM529.0 598h1v5h-1zM536.0 587h1v21h-1zM543.0 602h1v6h-1zM556.0 555h1v33h-1zM559.0 590h1v10h-1zM566.0 590h1v24h-1zM573.0 567h1v19h-1zM576.0 588h1v9h-1zM579.0 599h1v1h-1zM586.0 574h1v14h-1zM593.0 586h1v9h-1zM599.0 556h1v2h-1zM603.0 560h1v19h-1zM606.0 581h1v6h-1zM613.0 581h1v3h-1zM620.0 555h1v14h-1zM630.0 550h1v5h-1zM640.0 541h1v10h-1zM646.0 537h1v20h-1zM653.0 542h1v22h-1zM660.0 548h1v12h-1zM663.0 562h1v15h-1zM680.0 530h1v5h-1zM693.0 511h1v4h-1zM696.0 517h1v10h-1zM700.0 529h1v26h-1zM713.0 509h1v7h-1zM717.0 523h1v5h-1zM720.0 530h1v13h-1zM727.0 538h1v18h-1zM743.0 502h1v4h-1zM747.0 508h1v10h-1zM750.0 515h1v26h-1zM753.0 543h1v3h-1zM757.0 548h1v35h-1zM760.0 585h1v2h-1zM780.0 542h1v1h-1zM783.0 542h1v3h-1zM794.0 531h1v23h-1zM800.0 548h1v7h-1zM804.0 557h1v17h-1zM807.0 576h1v7h-1zM810.0 585h1v5h-1zM837.0 527h1v13h-1zM844.0 531h1v10h-1zM854.0 507h1v1h-1zM864.0 474h1v3h-1zM874.0 460h1v14h-1zM877.0 476h1v19h-1zM881.0 497h1v9h-1zM891.0 503h1v6h-1zM894.0 511h1v20h-1zM911.0 497h1v5h-1zM921.0 494h1v16h-1zM927.0 510h1v14h-1zM931.0 525h1v38h-1zM937.0 546h1v11h-1zM944.0 547h1v11h-1zM954.0 547h1v9h-1zM974.0 510h1v3h-1zM978.0 515h1v8h-1zM981.0 525h1v4h-1zM984.0 531h1v2h-1zM988.0 534h1v22h-1zM994.0 550h1v10h-1zM1004.0 535h1v2h-1zM1011.0 533h1v3h-1zM1018.0 538h1v16h-1zM1024.0 548h1v13h-1zM1028.0 564h1v16h-1zM1068.0 488h1v1h-1zM1078.0 466h1v3h-1zM1081.0 471h1v5h-1zM1088.0 483h1v3h-1zM1091.0 487h1v13h-1zM1098.0 497h1v1h-1zM1121.0 457h1v8h-1zM1135.0 435h1v6h-1zM1138.0 443h1v9h-1zM1142.0 454h1v4h-1zM1148.0 449h1v12h-1zM1158.0 454h1v7h-1zM1178.0 343h1v2h-1zM1192.0 279h1v42h-1zM1202.0 294h1v9h-1zM1205.0 305h1v34h-1zM1215.0 259h1v6h-1zM1222.0 241h1v16h-1zM1225.0 259h1v8h-1zM1235.0 262h1v19h-1zM1245.0 267h1v7h-1zM1255.0 243h1v7h-1zM1265.0 259h1v25h-1zM1272.0 267h1v32h-1zM1289.0 229h1v36h-1zM1292.0 267h1v45h-1zM1302.0 252h1v39h-1zM1309.0 261h1v31h-1zM1316.0 299h1v6h-1zM1319.0 307h1v22h-1zM1322.0 331h1v28h-1z" fill="#f44336" shape-rendering="crispEdges"/>
</g>
<path d="M1593.39 770.86L1592.20 773.29L1594.05 774.83L1596.26 774.61L1598.91 773.51L1603.32 773.06L1605.53 773.51L1607.08 772.62L1606.41 769.97L1607.96 772.18L1607.52 774.17L1605.53 775.49L1606.41 780.57L1607.96 788.08L1610.39 792.49L1613.92 796.47L1616.79 798.45L1614.36 798.89L1610.39 796.02L1606.86 792.93L1603.32 794.70L1603.76 796.91L1607.74 799.56L1609.28 801.32L1606.41 801.76L1604.21 799.34L1599.79 796.47L1595.38 797.79L1592.73 799.12L1590.96 801.32L1594.49 803.97L1595.15 805.08L1591.84 804.41L1587.87 801.32L1589.64 799.12L1588.75 798.67L1582.57 798.01L1579.04 797.35L1577.49 798.67L1574.62 804.41L1572.19 805.08L1571.97 804.19L1575.51 799.56L1577.49 796.02L1579.04 792.93L1580.80 791.17L1583.01 790.28L1581.25 788.96L1579.26 786.53L1580.36 785.21L1584.34 784.99L1585.00 783.22L1583.01 781.45L1581.25 778.14L1582.13 777.70L1584.34 781.45L1586.32 783.00L1585.66 784.99L1582.57 786.31L1581.25 786.75L1583.45 789.40L1586.54 788.08L1589.19 786.31L1593.61 783.66L1595.82 781.01L1596.70 779.25L1596.26 777.48L1595.60 775.49L1594.49 775.36L1592.95 774.83Z" fill="#0f52c8" stroke="#0f52c8" stroke-width="0.5" stroke-linejoin="round"/><path d="M1639.45 770.86L1641.22 772.62L1642.54 771.74L1643.87 773.51L1644.75 775.27L1648.73 777.04L1652.26 778.80L1654.91 780.35L1659.32 781.01L1662.86 782.34L1665.06 785.43L1667.71 788.96L1669.04 791.61L1669.48 795.14L1672.13 797.79L1673.01 800.88L1672.13 803.09L1669.92 803.97L1667.05 803.75L1667.71 801.76L1666.39 800.88L1663.74 800.00L1661.53 797.79L1660.21 796.47L1660.21 800.00L1660.65 801.32L1658.88 803.53L1655.79 803.97L1652.26 803.75L1653.14 802.21L1650.49 800.44L1648.28 798.45L1646.96 796.91L1646.96 798.67L1645.19 800.88L1642.99 801.10L1641.88 799.56L1642.99 796.91L1644.75 795.58L1645.64 793.82L1643.43 792.05L1641.66 792.93L1639.45 794.26L1636.80 794.26L1634.60 794.26L1633.27 795.58L1630.62 795.36L1628.19 794.26L1628.19 792.93L1629.74 792.05L1632.83 792.49L1634.60 791.17L1636.80 789.84L1638.57 787.19L1639.67 785.43L1637.69 783.66L1636.36 781.01L1635.70 779.25L1633.93 779.69L1632.61 777.92L1632.17 776.38L1635.04 775.49L1636.36 774.17L1638.13 772.62Z" fill="#0f52c8" stroke="#0f52c8" stroke-width="0.5" stroke-linejoin="round"/>
</svg>
<div id="hdr" class="t">KarstenKagels erstellt mit TradingView.com, Mrz 27, 2026 15:30 UTC+1</div>
<div class="t lg" style="top:36.4px"><span style="letter-spacing:-0.34px">AUDUSD · Australischer Dollar/U.S. Dollar · 1T · FXCM</span><span style="letter-spacing:-0.58px;margin-left:7.3px">O0,68836</span><span style="letter-spacing:-0.58px;margin-left:7.3px">H0,69119</span><span style="letter-spacing:-0.58px;margin-left:7.3px">L0,68719</span><span style="letter-spacing:-0.58px;margin-left:7.3px">C0,68880</span></div>
<div class="t lg" style="top:53.3px">SMA (20, close)<span style="color:#2962ff;margin-left:7.8px">0,70328</span></div>
<div class="t lg" style="top:70.3px">SMA (50, close)<span style="color:#2e7d32;margin-left:7.8px">0,70142</span></div>
<div class="t lg" style="top:87.3px">SMA (100, close)<span style="color:#b22833;margin-left:7.8px">0,68106</span></div>
<div class="t lg" style="top:104.3px">SMA (200, close)<span style="color:#f57c00;margin-left:7.8px">0,66737</span></div>
<div class="t pl" style="top:102.4px">0,74000</div>
<div class="t pl" style="top:152px">0,73000</div>
<div class="t pl" style="top:201.8px">0,72000</div>
<div class="t pl" style="top:251.6px">0,71000</div>
<div class="t pl" style="top:301.3px">0,70000</div>
<div class="t pl" style="top:351px">0,69000</div>
<div class="t pl" style="top:400.8px">0,68000</div>
<div class="t pl" style="top:500px">0,66000</div>
<div class="t pl" style="top:549.9px">0,65000</div>
<div class="t pl" style="top:599.5px">0,64000</div>
<div class="t pl" style="top:648.7px">0,63000</div>
<div class="t pl" style="top:698.3px">0,62000</div>
<div class="t pl" style="top:748.8px">0,61000</div>
<div class="t pl" style="top:847.6px">0,59000</div>
<div class="tag" style="top:212.9px;background:#673ab7"><span>0,71577</span></div>
<div class="tag" style="top:347.0px;background:#1b5e20"><span>0,68880</span></div>
<div class="tag" style="top:427.3px;background:#673ab7"><span>0,67275</span></div>
<div class="tag" style="top:449.9px;background:#9575cd"><span>0,67071</span></div>
<div class="tag" style="top:578.9px;background:#673ab7"><span>0,64212</span></div>
<div class="tag" style="top:704.0px;background:#673ab7"><span>0,61699</span></div>
<div class="tag" style="top:785.3px;background:#673ab7"><span>0,60060</span></div>
<div class="t tl" style="left:40.8px;letter-spacing:1.7px">Okt</div>
<div class="t tl" style="left:118.1px">Nov</div>
<div class="t tl" style="left:188.3px">Dez</div>
<div class="t tl b" style="left:258.5px">2025</div>
<div class="t tl" style="left:399.4px">Mrz</div>
<div class="t tl" style="left:469.6px">Apr</div>
<div class="t tl" style="left:543.3px">Mai</div>
<div class="t tl" style="left:616.5px">Jun</div>
<div class="t tl" style="left:686.1px">Jul</div>
<div class="t tl" style="left:763.4px">Aug</div>
<div class="t tl" style="left:834.0px">Sep</div>
<div class="t tl" style="left:907.3px;letter-spacing:1.7px">Okt</div>
<div class="t tl" style="left:983.9px">Nov</div>
<div class="t tl b" style="left:1125.5px">2026</div>
<div class="t tl" style="left:1262.1px">Mrz</div>
<div class="t tl" style="left:1336.0px">Apr</div>
<div class="t tl" style="left:1409.3px">Mai</div>
<div class="t tl" style="left:1480.7px">Jun</div>
<div class="t tl" style="left:1553.5px">Jul</div>
<div class="t tl" style="left:1630.0px">Aug</div>
<div class="t tl" style="left:1700.3px">Sep</div>
<div id="usd"><span>USD</span></div>
<div id="kg" class="t"><span class="k1">KAGELS</span></div><div id="tr" class="t"><span class="k2">TRADING</span></div>
<svg style="position:absolute;left:12px;top:913px" width="31" height="16" viewBox="0 0 31 16"><path fill="#e0e0e0" d="M0 0H12V14.9H6V5.9H0ZM23.5 0H30L23.8 14.9H17.3Z"/><circle cx="17.1" cy="2.95" r="2.9" fill="#e0e0e0"/></svg>
<div id="tv" class="t">TradingView</div>
</body></html>
